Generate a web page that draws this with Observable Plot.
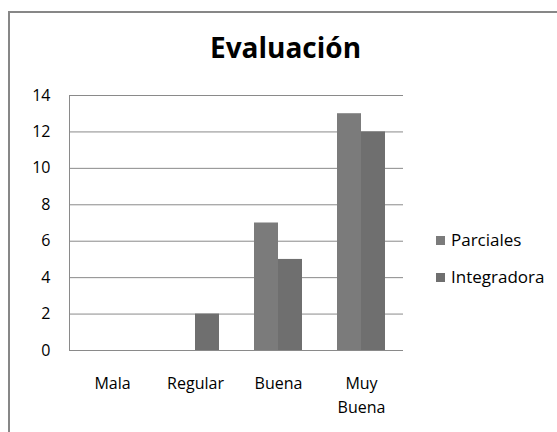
<!DOCTYPE html>
<html><head><meta charset="utf-8">
<script src="https://cdn.jsdelivr.net/npm/d3@7"></script>
<script src="https://cdn.jsdelivr.net/npm/@observablehq/plot@0.6"></script>
<style>
body{margin:0;background:#fff;}
#wrap{position:relative;width:557px;height:432px;overflow:hidden;font-family:"Open Sans",sans-serif;}
#border{position:absolute;left:8px;top:11px;width:600px;height:500px;border:2px solid #878787;box-sizing:border-box;}
#title{position:absolute;left:14px;right:0;top:33px;text-align:center;font-weight:bold;font-size:28px;line-height:1;color:#000;}
.layer{position:absolute;left:0;top:0;}
#legend{position:absolute;left:436px;top:231px;font-size:17px;line-height:17px;color:#000;}
.item{display:flex;align-items:center;height:17px;margin-bottom:20px;}
.sw{width:9px;height:9px;margin-right:6px;margin-top:1px;}
</style></head>
<body><div id="wrap"><div id="border"></div><div id="bg" class="layer"></div><div id="fg" class="layer"></div><div id="title">Evaluación</div><div id="legend"></div></div>
<script>
const categories = ["Mala", "Regular", "Buena", "Muy Buena"];
const series = ["Parciales", "Integradora"];
const parciales = [0, 0, 7, 13];
const integradora = [0, 2, 5, 12];
const yTicks = [0, 2, 4, 6, 8, 10, 12, 14];
const colors = ["#7b7b7b", "#6f6f6f"];

const data = categories.flatMap((c, i) => [
  {cat: c, serie: series[0], value: parciales[i]},
  {cat: c, serie: series[1], value: integradora[i]}
]);

const common = {
  width: 557, height: 432,
  marginLeft: 69, marginRight: 154, marginTop: 95, marginBottom: 82,
  style: {background: "transparent", fontFamily: "Open Sans", fontSize: "16px"}
};

const bg = Plot.plot({
  ...common,
  x: {domain: [0, 1], axis: null},
  y: {domain: [0, 14], axis: null},
  marks: [
    Plot.ruleY(yTicks, {stroke: "#8a8a8a"}),
    Plot.ruleX([0], {y1: 0, y2: 14, stroke: "#8a8a8a"}),
    Plot.text(yTicks, {y: d => d, frameAnchor: "left", dx: -19, textAnchor: "end", text: d => String(d), fontSize: 16, fill: "#000"})
  ]
});
document.getElementById("bg").appendChild(bg);

const fg = Plot.plot({
  ...common,
  fx: {domain: categories, paddingInner: 0.425, paddingOuter: 0.2125, axis: null},
  x: {domain: series, padding: 0, axis: null},
  y: {domain: [0, 14], axis: null},
  color: {domain: series, range: colors},
  marks: [
    Plot.barY(data, {fx: "cat", x: "serie", y: "value", fill: "serie"}),
    Plot.text(categories, {fx: d => d, text: d => d.replace(" ", "\n"), frameAnchor: "bottom", lineAnchor: "top", dy: 21, fontSize: 16, lineHeight: 1.5, fill: "#000"})
  ]
});
document.getElementById("fg").appendChild(fg);

const legend = document.getElementById("legend");
series.forEach((s, i) => {
  const it = document.createElement("div");
  it.className = "item";
  const sw = document.createElement("div");
  sw.className = "sw";
  sw.style.background = colors[i];
  const t = document.createElement("span");
  t.textContent = s;
  it.appendChild(sw); it.appendChild(t);
  legend.appendChild(it);
});
</script></body></html>
